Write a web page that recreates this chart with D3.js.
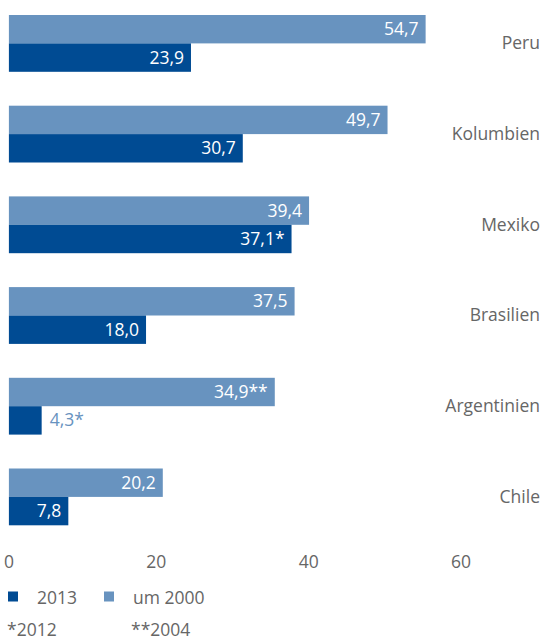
<!DOCTYPE html>
<html>
<head>
<meta charset="utf-8">
<script src="https://cdn.jsdelivr.net/npm/d3@7"></script>
<style>
  body { margin: 0; background: #fff; }
  text { font-family: "Open Sans", "Noto Sans", sans-serif; }
</style>
</head>
<body>
<div id="chart"></div>
<script>
var countries = ["Peru", "Kolumbien", "Mexiko", "Brasilien", "Argentinien", "Chile"]
var val2000 = [54.7, 49.7, 39.4, 37.5, 34.9, 20.2]
var val2013 = [23.9, 30.7, 37.1, 18.0, 4.3, 7.8]
var note2000 = ["", "", "", "", "**", ""]
var note2013 = ["", "", "*", "", "*", ""]
var ticks = [0, 20, 40, 60]

var dark = "#004b93"
var light = "#6893bf"
var grey = "#666666"

var width = 542, height = 641
var barH = 28.4
var step = 90.7
var fs = 17.5

var svg = d3.select("#chart").append("svg")
  .attr("width", width)
  .attr("height", height)

var x = d3.scaleLinear()
  .domain([0, 60])
  .range([8.9, 466])

var y = d3.scaleBand()
  .domain(countries)
  .range([15, 15 + step * countries.length])

var fmt = function (v) { return d3.format(".1f")(v).replace(".", ",") }

var data = countries.map(function (c, i) {
  return { name: c, a: val2000[i], b: val2013[i], na: note2000[i], nb: note2013[i] }
})

var g = svg.selectAll(".grp")
  .data(data)
  .enter().append("g")
  .attr("class", "grp")
  .attr("transform", d => "translate(0," + y(d.name) + ")")

// um 2000 (light, top)
g.append("rect")
  .attr("x", x(0))
  .attr("y", 0)
  .attr("width", d => x(d.a) - x(0))
  .attr("height", barH)
  .attr("fill", light)

// 2013 (dark, bottom)
g.append("rect")
  .attr("x", x(0))
  .attr("y", barH)
  .attr("width", d => x(d.b) - x(0))
  .attr("height", barH)
  .attr("fill", dark)

g.append("text")
  .attr("x", d => x(d.a) - 7)
  .attr("y", barH / 2 + 6)
  .attr("text-anchor", "end")
  .attr("fill", "white")
  .attr("font-size", fs)
  .text(d => fmt(d.a) + d.na)

// short bar: label sits outside, in the light colour
var inside = d => x(d.b) - x(0) > 40
g.append("text")
  .attr("x", d => inside(d) ? x(d.b) - 7 : x(d.b) + 8)
  .attr("y", barH * 1.5 + 6)
  .attr("text-anchor", d => inside(d) ? "end" : "start")
  .attr("fill", d => inside(d) ? "white" : light)
  .attr("font-size", fs)
  .text(d => fmt(d.b) + d.nb)

g.append("text")
  .attr("x", 540)
  .attr("y", barH + 6)
  .attr("text-anchor", "end")
  .attr("fill", grey)
  .attr("font-size", fs)
  .text(d => d.name)

// axis labels
svg.selectAll(".tick")
  .data(ticks)
  .enter().append("text")
  .attr("class", "tick")
  .attr("x", (d, i) => x(d) - (i > 0 ? 5 : 0))
  .attr("y", 568)
  .attr("text-anchor", "middle")
  .attr("fill", grey)
  .attr("font-size", fs)
  .text(d => d)

// legend
var legend = [{ label: "2013", color: dark, x: 8 }, { label: "um 2000", color: light, x: 104 }]
var lg = svg.selectAll(".legend")
  .data(legend)
  .enter().append("g")
  .attr("class", "legend")
  .attr("transform", d => "translate(" + d.x + ",591.5)")

lg.append("rect")
  .attr("width", 10)
  .attr("height", 10)
  .attr("fill", d => d.color)

lg.append("text")
  .attr("x", 29)
  .attr("y", 12.5)
  .attr("fill", grey)
  .attr("font-size", fs)
  .text(d => d.label)

// footnotes
svg.append("text").attr("x", 7).attr("y", 636).attr("fill", grey).attr("font-size", fs).text("*2012")
svg.append("text").attr("x", 131).attr("y", 636).attr("fill", grey).attr("font-size", fs).text("**2004")
</script>
</body>
</html>
